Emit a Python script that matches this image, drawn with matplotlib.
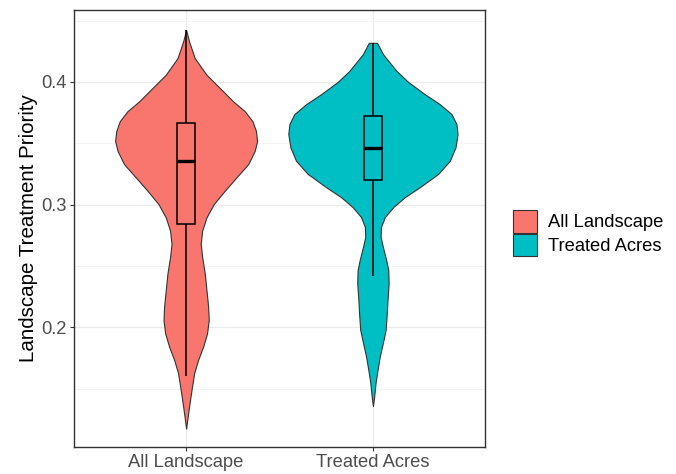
"""Violin + box plot of landscape treatment priority."""

import matplotlib

matplotlib.use('Agg')
import matplotlib.pyplot as plt
from matplotlib import font_manager
from matplotlib.patches import Patch, Rectangle
from matplotlib.ticker import MultipleLocator

GROUPS = ['All Landscape', 'Treated Acres']
FILL_COLORS = ['#F8766D', '#00BFC4']

# violin outlines: priority level and half-width (in category units)
ALL_LEVELS = [0.4424, 0.4330, 0.4195, 0.4059, 0.3924, 0.3843, 0.3762, 0.3681,
              0.3600, 0.3519, 0.3438, 0.3330, 0.3222, 0.3114, 0.3005, 0.2897,
              0.2789, 0.2681, 0.2573, 0.2438, 0.2303, 0.2168, 0.2059, 0.1951,
              0.1843, 0.1735, 0.1627, 0.1492, 0.1357, 0.1222, 0.1175]
ALL_HALF_WIDTH = [0.000, 0.016, 0.046, 0.109, 0.198, 0.251, 0.314, 0.355,
                  0.374, 0.380, 0.367, 0.332, 0.269, 0.207, 0.148, 0.109,
                  0.086, 0.078, 0.086, 0.100, 0.109, 0.118, 0.121, 0.112,
                  0.091, 0.064, 0.043, 0.029, 0.016, 0.004, 0.000]

TREATED_LEVELS = [0.4319, 0.4224, 0.4089, 0.4000, 0.3900, 0.3819, 0.3738,
                  0.3657, 0.3576, 0.3468, 0.3359, 0.3251, 0.3143, 0.3062,
                  0.2981, 0.2900, 0.2819, 0.2738, 0.2657, 0.2549, 0.2468,
                  0.2359, 0.2224, 0.2089, 0.1981, 0.1873, 0.1765, 0.1657,
                  0.1549, 0.1441, 0.1359]
TREATED_HALF_WIDTH = [0.022, 0.055, 0.127, 0.189, 0.278, 0.358, 0.421,
                      0.447, 0.453, 0.442, 0.412, 0.349, 0.251, 0.171,
                      0.109, 0.064, 0.043, 0.041, 0.053, 0.071, 0.082,
                      0.084, 0.078, 0.073, 0.068, 0.053, 0.037, 0.025,
                      0.014, 0.007, 0.000]

# box stats: lower whisker, q1, median, q3, upper whisker
ALL_BOX = [0.1605, 0.2840, 0.3360, 0.3667, 0.4424]
TREATED_BOX = [0.2420, 0.3198, 0.3466, 0.3720, 0.4319]

OUTLINE = '#333333'
BOX_WIDTH = 0.1


def _pick_font():
    names = {f.name for f in font_manager.fontManager.ttflist}
    if 'Liberation Sans Narrow' in names:
        return 'Liberation Sans Narrow', 16.5
    return 'Liberation Sans', 13.2


def _draw_violin(ax, pos, levels, half_width, color):
    left = [pos - w for w in half_width]
    right = [pos + w for w in half_width]
    ax.fill_betweenx(levels, left, right, facecolor=color, edgecolor=OUTLINE,
                     linewidth=0.8, zorder=2)


def _draw_box(ax, pos, stats, color):
    lo, q1, med, q3, hi = stats
    half = BOX_WIDTH / 2
    ax.plot([pos, pos], [lo, q1], color='black', lw=1.1, zorder=3, solid_capstyle='butt')
    ax.plot([pos, pos], [q3, hi], color='black', lw=1.1, zorder=3, solid_capstyle='butt')
    ax.add_patch(Rectangle((pos - half, q1), BOX_WIDTH, q3 - q1, facecolor=color,
                           edgecolor='black', lw=1.1, zorder=3))
    ax.plot([pos - half, pos + half], [med, med], color='black', lw=2.4, zorder=4,
            solid_capstyle='butt')


font_name, font_size = _pick_font()
plt.rcParams['font.family'] = [font_name, 'Liberation Sans', 'DejaVu Sans']

fig = plt.figure(figsize=(6.76, 4.74), dpi=100)
ax = fig.add_axes([0.1095, 0.0576, 0.6080, 0.9219])

violins = [(ALL_LEVELS, ALL_HALF_WIDTH, ALL_BOX),
           (TREATED_LEVELS, TREATED_HALF_WIDTH, TREATED_BOX)]
for i, (levels, widths, box) in enumerate(violins):
    pos = i + 1
    _draw_violin(ax, pos, levels, widths, FILL_COLORS[i])
    _draw_box(ax, pos, box, FILL_COLORS[i])

ax.set_xlim(0.4, 2.6)
ax.set_ylim(0.1028, 0.4589)
ax.set_xticks([1, 2])
ax.set_xticklabels(GROUPS)
ax.yaxis.set_major_locator(MultipleLocator(0.1))
ax.yaxis.set_minor_locator(MultipleLocator(0.05))
ax.yaxis.set_major_formatter(lambda v, _pos: f'{v:.1f}')

ax.grid(True, which='major', color='#EBEBEB', lw=1.0, zorder=0)
ax.grid(True, which='minor', axis='y', color='#F3F3F3', lw=0.6, zorder=0)
ax.set_axisbelow(True)
for spine in ax.spines.values():
    spine.set_color(OUTLINE)
    spine.set_linewidth(1.0)

ax.tick_params(axis='both', which='major', length=3, width=0.8, color=OUTLINE,
               labelcolor='#4D4D4D', labelsize=font_size, pad=2)
ax.tick_params(axis='y', which='minor', length=0)

ax.set_ylabel('Landscape Treatment Priority', family=['Liberation Sans', 'DejaVu Sans'],
              fontsize=14.8, color='black', labelpad=3)

handles = [Patch(facecolor=c, edgecolor=OUTLINE, lw=0.8) for c in FILL_COLORS]
fig.legend(handles, GROUPS, loc='center left', bbox_to_anchor=(0.7585, 0.508),
           frameon=False, fontsize=font_size, handlelength=1.31, handleheight=1.5,
           handletextpad=0.63, labelspacing=0.07, borderpad=0, borderaxespad=0)

fig.savefig('out.png', dpi=100)
